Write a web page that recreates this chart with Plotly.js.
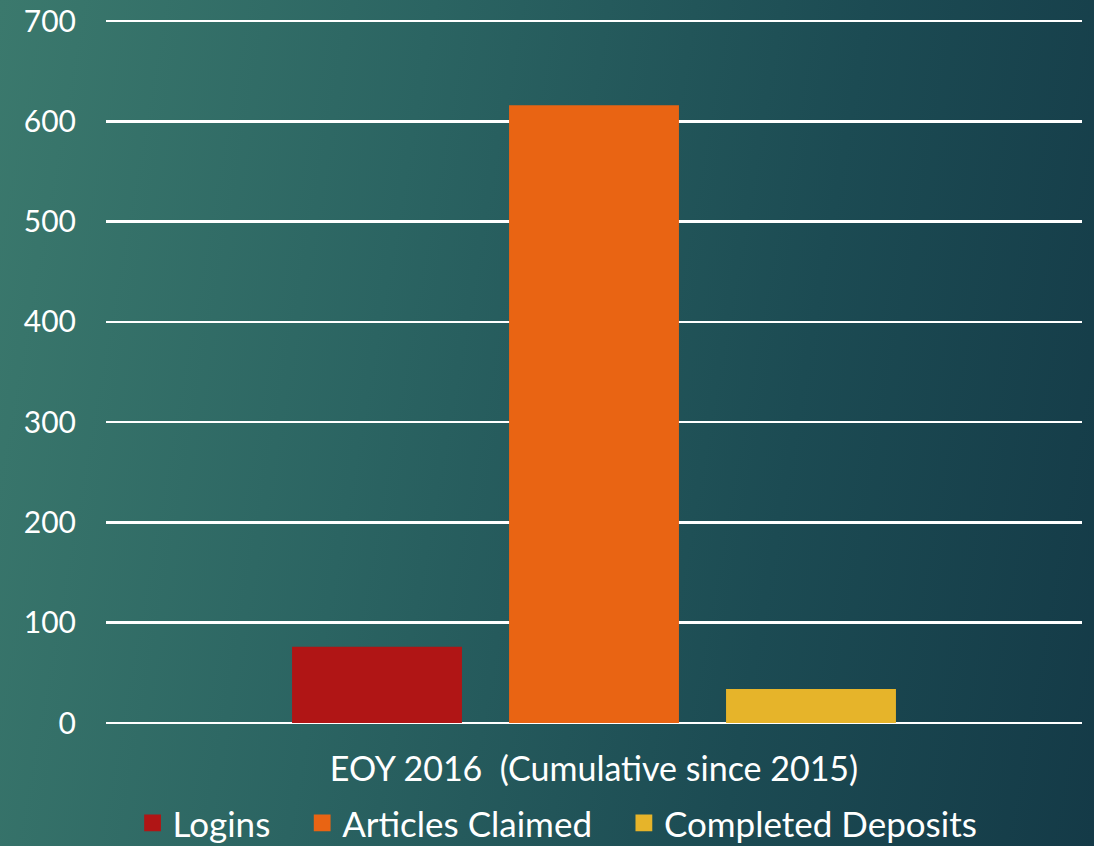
<!DOCTYPE html>
<html>
<head>
<meta charset="utf-8">
<script src="https://cdn.plot.ly/plotly-3.0.1.min.js"></script>
<style>
html,body{margin:0;padding:0;}
body{width:1094px;height:846px;background:linear-gradient(100deg,#3b796d 0%,#2b6462 35%,#1c4b53 70%,#143a47 100%);}
#chart{width:1094px;height:846px;}
</style>
</head>
<body>
<div id="chart"></div>
<script>
var categories = ["EOY 2016\u00a0 (Cumulative since 2015)"];
var seriesNames = ["Logins", "Articles Claimed", "Completed Deposits"];
var logins = [76];
var articlesClaimed = [616];
var completedDeposits = [34];
var seriesColors = ["#b01515", "#e96413", "#e6b42a"];
var yTicks = [0, 100, 200, 300, 400, 500, 600, 700];

var values = [logins, articlesClaimed, completedDeposits];
var traces = values.map(function(v, i){
  return {type:'bar', name:seriesNames[i] + '\u00a0\u00a0\u00a0', x:categories, y:v,
          marker:{color:seriesColors[i]}, hoverinfo:'none'};
});

var font = "Lato, 'Open Sans', sans-serif";
var layout = {
  width:1094, height:846,
  paper_bgcolor:'rgba(0,0,0,0)', plot_bgcolor:'rgba(0,0,0,0)',
  margin:{l:106, r:12, t:16, b:123, autoexpand:false},
  barmode:'group', bargap:0.333, bargroupgap:0.217,
  font:{family:font, color:'#ffffff', size:28},
  xaxis:{showgrid:false, zeroline:false, showline:false, automargin:false,
         ticks:'outside', ticklen:16, tickcolor:'rgba(0,0,0,0)',
         tickfont:{size:34, color:'#ffffff', family:font}},
  yaxis:{range:[0,705], tickvals:yTicks, ticktext:yTicks.map(String),
         showgrid:true, gridcolor:'#ffffff', gridwidth:2.5,
         zeroline:true, zerolinecolor:'#ffffff', zerolinewidth:2.5, showline:false,
         automargin:false,
         ticks:'outside', ticklen:23, tickcolor:'rgba(0,0,0,0)',
         tickfont:{size:30, color:'#ffffff', family:font}},
  showlegend:true,
  legend:{orientation:'h', x:0.522, xanchor:'center', xref:'container',
          y:0.027, yanchor:'middle', yref:'container',
          font:{size:35, color:'#ffffff', family:font},
          bgcolor:'rgba(0,0,0,0)', itemwidth:30, traceorder:'normal'}
};
Plotly.newPlot('chart', traces, layout, {displayModeBar:false, staticPlot:true}).then(function(gd){
  gd.querySelectorAll('.legendpoints path').forEach(function(p){
    var t = p.getAttribute('transform') || '';
    p.setAttribute('transform', t + ' scale(1.4)');
  });
});
</script>
</body>
</html>
